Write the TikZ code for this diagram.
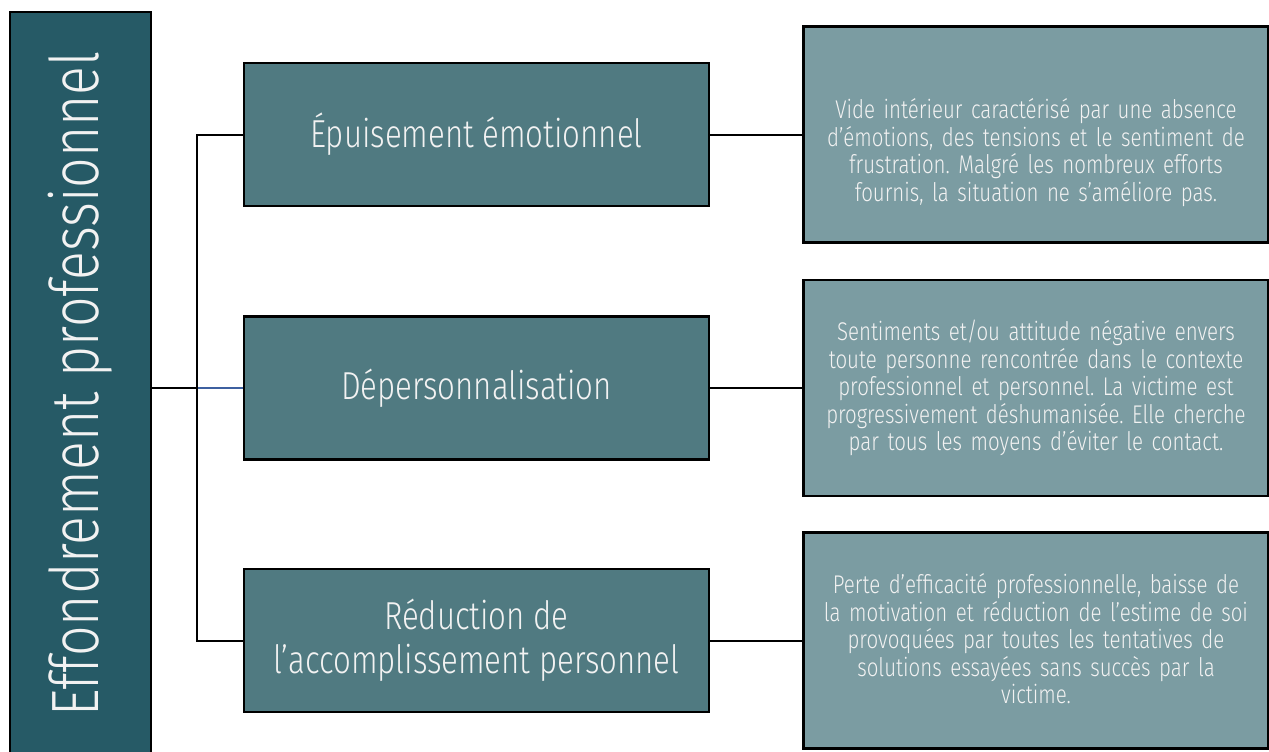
\documentclass[tikz,border=0pt]{standalone}
\usepackage{fontspec}
\setmainfont{Fira Sans Light}[FakeStretch=0.8]
\usetikzlibrary{positioning}
\definecolor{darkteal}{RGB}{38,90,102}
\definecolor{midteal}{RGB}{80,122,129}
\definecolor{paleteal}{RGB}{123,156,162}
\definecolor{linkblue}{RGB}{62,96,160}
\definecolor{offwhite}{RGB}{242,242,242}
\frenchspacing

\begin{document}
\begin{tikzpicture}[
    x = 1pt, y = -1pt,
    title/.style =
    { shape          = rectangle,
      draw           = black,
      line width     = 2.5pt,
      fill           = darkteal,
      text           = offwhite,
      rotate         = 90,
      font           = \fontsize{67}{72}\selectfont,
      minimum width  = 744pt,
      minimum height = 141pt },
    stage/.style =
    { shape          = rectangle,
      draw           = black,
      line width     = 2.5pt,
      fill           = midteal,
      text           = offwhite,
      align          = center,
      font           = \fontsize{39}{44}\selectfont,
      minimum width  = 465pt,
      minimum height = 143pt },
    detail/.style =
    { shape          = rectangle,
      draw           = black,
      line width     = 2.5pt,
      fill           = paleteal,
      text           = offwhite,
      align          = center,
      text width     = 462pt,
      inner sep      = 0pt,
      font           = \fontsize{25.6}{27.5}\selectfont,
      minimum width  = 465pt,
      minimum height = 216pt },
    link/.style =
    { line width = 2pt }
  ]
  \useasboundingbox (0,0) rectangle (1269,752);

  \node[title] (eff) at (80.5,384) {Effondrement professionnel};

  \node[stage] (epu) at (476.5,134.5) {Épuisement émotionnel};
  \node[stage, below = 108pt of epu] (dep) {Dépersonnalisation};
  \node[stage, below = 107pt of dep] (red) {Réduction de\\l'accomplissement personnel};

  \node[detail, right = 92pt of epu] (epud) {\mbox{}\\[29pt]Vide intérieur caractérisé par une absence\\d'émotions, des tensions et le sentiment de\\frustration. Malgré les nombreux efforts\\fournis, la situation ne s'améliore pas.};
  \node[detail, right = 92pt of dep] (depd) {Sentiments et/ou attitude négative envers\\toute personne rencontrée dans le contexte\\professionnel et personnel. La victime est\\progressivement déshumanisée. Elle cherche\\par tous les moyens d'éviter le contact.};
  \node[detail, right = 92pt of red] (redd) {\mbox{}\\[-11pt]Perte d'efficacité professionnelle, baisse de\\la motivation et réduction de l'estime de soi\\provoquées par toutes les tentatives de\\solutions essayées sans succès par la\\victime.};

  \coordinate[left = 46pt of dep.west] (fork);

  \draw[link] (eff.south |- dep.west) -- (fork);
  \draw[link, linkblue] (fork) -- (dep.west);
  \draw[link] (epu.west) -| (fork) |- (red.west);

  \draw[link] (epu.east) -- (epud.west);
  \draw[link] (dep.east) -- (depd.west);
  \draw[link] (red.east) -- (redd.west);
\end{tikzpicture}
\end{document}
